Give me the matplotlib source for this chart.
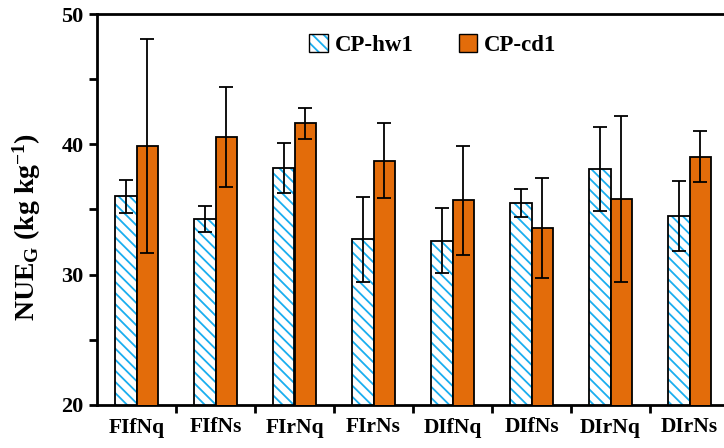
import matplotlib
matplotlib.use("Agg")
import matplotlib.pyplot as plt
import numpy as np
from matplotlib.patches import Patch

categories = ["FIfNq", "FIfNs", "FIrNq", "FIrNs", "DIfNq", "DIfNs", "DIrNq", "DIrNs"]
hw1_values = [36.0, 34.3, 38.2, 32.7, 32.6, 35.5, 38.1, 34.5]
hw1_errors = [1.3, 1.0, 1.9, 3.25, 2.5, 1.1, 3.2, 2.7]
cd1_values = [39.85, 40.55, 41.6, 38.75, 35.7, 33.6, 35.8, 39.05]
cd1_errors = [8.2, 3.85, 1.2, 2.9, 4.2, 3.85, 6.35, 1.95]
series_names = ["CP-hw1", "CP-cd1"]
yticks = [20, 30, 40, 50]

plt.rcParams['font.family'] = ['Liberation Serif', 'DejaVu Serif']
plt.rcParams['font.weight'] = 'bold'
plt.rcParams['mathtext.fontset'] = 'custom'
plt.rcParams['mathtext.rm'] = 'Liberation Serif:bold'
plt.rcParams['mathtext.bf'] = 'Liberation Serif:bold'
plt.rcParams['mathtext.it'] = 'Liberation Serif:bold'
plt.rcParams['hatch.linewidth'] = 1.3
blue = '#1AAEEF'
orange = '#E36C0A'
plt.rcParams['hatch.color'] = blue

fig = plt.figure(figsize=(7.24, 4.48), dpi=100)
ax = fig.add_axes([97/724, 1-405/448, 632/724, 391/448])

x = np.arange(len(categories))
w = 0.27
hatch = '\\\\\\'

ax.bar(x - w/2, hw1_values, w, color='white', edgecolor=blue,
       hatch=hatch, linewidth=0, zorder=2)
ax.bar(x - w/2, hw1_values, w, fill=False, edgecolor='black', linewidth=1.3, zorder=3)
ax.bar(x + w/2, cd1_values, w, color=orange, edgecolor='black', linewidth=1.3, zorder=3)

ax.errorbar(x - w/2, hw1_values, yerr=hw1_errors, fmt='none', ecolor='black',
            elinewidth=1.3, capsize=5, capthick=1.3, zorder=4)
ax.errorbar(x + w/2, cd1_values, yerr=cd1_errors, fmt='none', ecolor='black',
            elinewidth=1.3, capsize=5, capthick=1.3, zorder=4)

ax.set_ylim(20, 50)
ax.set_xlim(-0.5, len(categories) - 0.5)
ax.set_yticks(yticks)
ax.set_yticks([25, 35, 45], minor=True)
ax.set_yticklabels([str(t) for t in yticks], fontsize=16, fontweight='bold')
ax.tick_params(axis='y', which='both', direction='out', length=6, width=2)

ax.set_xticks(np.arange(0.5, len(categories) - 0.5, 1.0))
ax.set_xticklabels([])
ax.tick_params(axis='x', which='major', direction='out', length=6, width=2)
ax.set_xticks(x, minor=True)
ax.set_xticklabels(categories, minor=True, fontsize=15.5, fontweight='bold')
ax.tick_params(axis='x', which='minor', length=0, pad=9)

for s in ['left', 'bottom', 'top']:
    ax.spines[s].set_linewidth(2)
ax.spines['right'].set_visible(False)

ax.set_ylabel(r'NUE$_{\mathrm{G}}$ (kg kg$^{\mathrm{-1}}$)', fontsize=20, fontweight='bold')
ax.yaxis.set_label_coords(-0.085, 0.455)

h1 = (Patch(facecolor='white', edgecolor=blue, hatch=hatch, linewidth=0),
      Patch(fill=False, edgecolor='black', linewidth=1))
h2 = Patch(facecolor=orange, edgecolor='black', linewidth=1)
fig.legend([h1, h2], series_names, loc='center', bbox_to_anchor=(433/724, 1-45/448),
           ncol=2, frameon=False, handlelength=0.8, handleheight=0.8,
           handletextpad=0.3, columnspacing=2.0, prop={'weight': 'bold', 'size': 16.5})

fig.savefig('out.png', dpi=100)
